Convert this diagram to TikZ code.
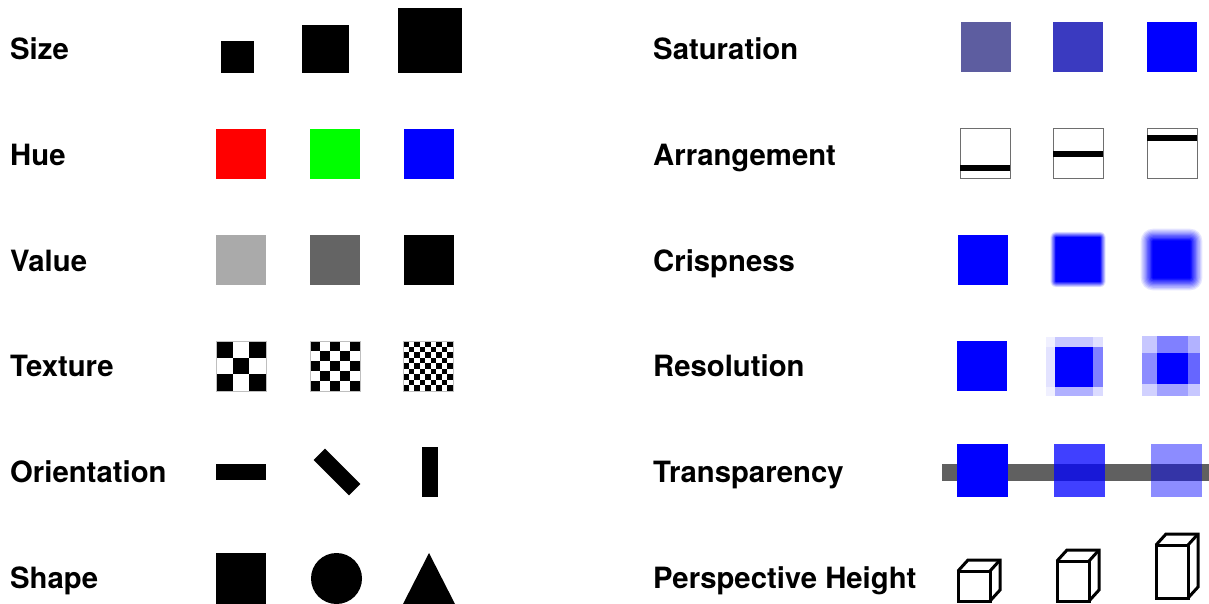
\documentclass[tikz,border=0pt]{standalone}
\usepackage{fontspec}
\setmainfont{TeX Gyre Heros}
\definecolor{satlow}{RGB}{93,93,160}
\definecolor{satmid}{RGB}{58,58,192}
\definecolor{vallight}{RGB}{170,170,170}
\definecolor{valmid}{RGB}{100,100,100}
\definecolor{barcol}{RGB}{96,96,96}
\definecolor{boxline}{RGB}{110,110,110}
\definecolor{puregreen}{RGB}{0,255,0}

\begin{document}
\begin{tikzpicture}
  [x=1pt,y=-1pt,
   lbl/.style={anchor=base west,inner sep=0pt,font=\fontsize{29.3}{35}\selectfont\bfseries}]
  \useasboundingbox (0,0) rectangle (1209,603);
  \clip (0,0) rectangle (1209,603);

  % Etiquetas de la izquierda
  \node[lbl] (size) at (10,59.5) {Size};
  \node[lbl] (hue) at (10,165.3) {Hue};
  \node[lbl] (value) at (10,271.1) {Value};
  \node[lbl] (texture) at (10,376.9) {Texture};
  \node[lbl] (orient) at (10,482.7) {Orientation};
  \node[lbl] (shape) at (10,588.5) {Shape};

  % Etiquetas de la derecha
  \node[lbl] (sat) at (653,59.5) {Saturation};
  \node[lbl] (arrange) at (653,165.3) {Arrangement};
  \node[lbl] (crisp) at (653,271.1) {Crispness};
  \node[lbl] (resol) at (653,376.9) {Resolution};
  \node[lbl] (transp) at (653,482.7) {Transparency};
  \node[lbl] (persp) at (653,588.5) {Perspective Height};

  % Size
  \fill (221,41) rectangle (254,73);
  \fill (302,25) rectangle (349,73);
  \fill (398,8) rectangle (462,73);

  % Hue
  \fill[red] (216,129) rectangle +(50,50);
  \fill[puregreen] (310,129) rectangle +(50,50);
  \fill[blue] (404,129) rectangle +(50,50);

  % Value
  \fill[vallight] (216,235) rectangle +(50,50);
  \fill[valmid] (310,235) rectangle +(50,50);
  \fill[black] (404,235) rectangle +(50,50);

  % Texture (tableros)
  \foreach \x/\n in {216/3,310/5,403/9}{
    \pgfmathsetmacro\cell{50/\n}
    \foreach \i in {1,...,\n}{
      \foreach \j in {1,...,\n}{
        \pgfmathtruncatemacro\odd{mod(\i+\j,2)}
        \ifnum\odd=0
          \fill ({\x+(\i-1)*\cell},{341+(\j-1)*\cell}) rectangle +(\cell,\cell);
        \fi
      }
    }
    \draw[black!25,line width=0.8] (\x,341) rectangle +(50,50);
  }

  % Orientation
  \fill (216,464) rectangle (266,480);
  \fill[shift={(337,472)},rotate=-45] (-25,-8) rectangle (25,8);
  \fill (422,447) rectangle (438,497);

  % Shape
  \fill (216,553) rectangle (266,604);
  \fill (336.5,578.5) circle[radius=25.5];
  \fill (429,553) -- (455,604) -- (403,604) -- cycle;

  % Saturation
  \fill[satlow] (961,22) rectangle +(50,50);
  \fill[satmid] (1053,22) rectangle +(50,50);
  \fill[blue] (1147,22) rectangle +(50,50);

  % Arrangement
  \foreach \x/\b in {960/168,1053/154,1147/138}{
    \draw[boxline,line width=1] (\x,128) rectangle +(50,50);
    \fill (\x,\b-3) rectangle +(50,6);
  }

  % Crispness (borrosidad por capas)
  \fill[blue] (958,234.5) rectangle +(50,50);
  \foreach \cx/\r in {1078/3,1171.5/6.5}{
    \foreach \k in {1,...,10}{
      \pgfmathsetmacro\d{\r*(1-2*(\k-0.5)/10)}
      \pgfmathsetmacro\op{1/(11-\k)}
      \pgfmathsetmacro\rc{\r+\d}
      \fill[blue,opacity=\op,rounded corners=\rc pt]
        ({\cx-25-\d},{259.5-25-\d}) rectangle ({\cx+25+\d},{259.5+25+\d});
    }
  }

  % Resolution
  \fill[blue] (957,341) rectangle +(50,50);
  \foreach \xa/\xb/\ya/\yb/\p in {
      1046/1055/337/347/6, 1055/1093/337/347/22, 1093/1103/337/347/12,
      1046/1055/347/387/11, 1055/1093/347/387/100, 1093/1103/347/387/50,
      1046/1055/387/396/6, 1055/1093/387/396/31, 1093/1103/387/396/14,
      1142/1157/336/353/22, 1157/1188/336/353/50, 1188/1200/336/353/30,
      1142/1157/353/384/45, 1157/1188/353/384/100, 1188/1200/353/384/60,
      1142/1157/384/396/18, 1157/1188/384/396/37, 1188/1200/384/396/22}{
    \fill[blue!\p!white] (\xa,\ya) rectangle (\xb,\yb);
  }

  % Transparency
  \fill[barcol] (942,464) rectangle (1209,481);
  \foreach \x/\op in {957/1,1054/0.75,1151/0.45}{
    \fill[blue,opacity=\op] (\x,444) rectangle +(51,53);
  }

  % Perspective Height (cajas)
  \foreach \x/\t/\b in {958/571/601,1057/561/601,1156/545/598}{
    \draw[line width=3,line join=miter] (\x,\t) rectangle (\x+32,\b);
    \draw[line width=3,line join=miter]
      (\x,\t) -- ++(10,-11) -- ++(32,0) -- ++(0,\b-\t) -- ++(-10,11);
    \draw[line width=3] (\x+32,\t) -- ++(10,-11);
  }
\end{tikzpicture}
\end{document}
